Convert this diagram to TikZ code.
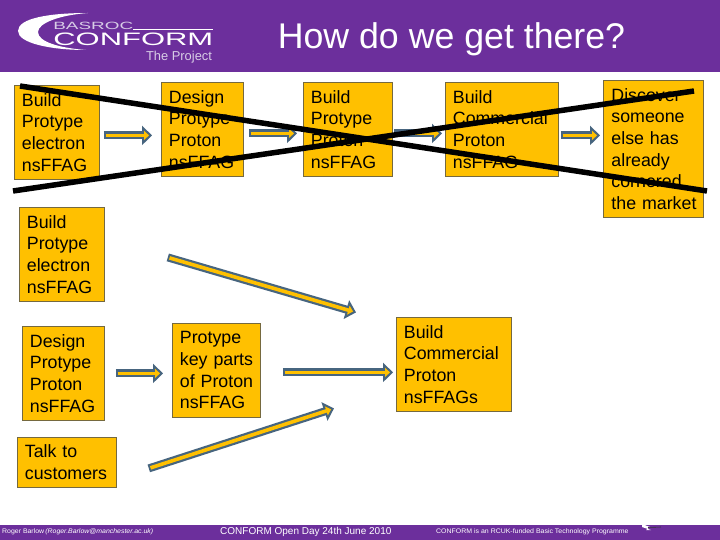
\documentclass[tikz,border=0pt]{standalone}
\usepackage{fontspec}
\setmainfont{Liberation Sans}
\usetikzlibrary{positioning, arrows.meta}

\definecolor{bandpurple}{HTML}{6C2F9C}
\definecolor{boxgold}{HTML}{FFC000}
\definecolor{boxedge}{HTML}{75693F}
\definecolor{arrowslate}{HTML}{47657F}
\definecolor{logogrey}{HTML}{D8CDE6}

\begin{document}
\begin{tikzpicture}[
    x=1pt, y=-1pt,
    band/.style={fill=bandpurple},
    stepbox/.style={draw=boxedge, fill=boxgold, line width=0.8pt, anchor=north west, align=left, inner xsep=7.5pt, inner ysep=0pt, font=\fontsize{17.8}{21.7}\selectfont},
    flowarrow/.style={draw=arrowslate, line width=8pt, -{Triangle[length=10pt,width=19pt]}, postaction={draw=boxgold, line width=3.6pt, -{Triangle[length=5pt,width=9pt]}, shorten <=1.8pt, shorten >=3pt}},
    crossline/.style={draw=black, line width=5.5pt},
    bandtext/.style={text=white, inner sep=0pt}
]

\useasboundingbox (0,0) rectangle (720,540);
\fill[white] (0,0) rectangle (720,540);

% Header and footer bands
\fill[band] (0,0) rectangle (720,72);
\fill[band] (0,525) rectangle (720,540);

% Logo in the header
\fill[white] (88,13) .. controls (50,13) and (18,18) .. (18,31) .. controls (18,43) and (50,50) .. (86,50) .. controls (60,48) and (38,42) .. (38,32) .. controls (38,23) and (60,15) .. (88,13) -- cycle;
\node[bandtext, text=logogrey, font=\fontsize{10.5}{11}\selectfont, xscale=1.8, anchor=west] (basroc) at (53,25.5) {BASROC};
\node[bandtext, font=\fontsize{18}{18}\selectfont, xscale=1.72, anchor=west] (conform) at (53,39.5) {CONFORM};
\draw[white, line width=0.7pt] (133,29) -- (213,29);

% Header texts
\node[bandtext, text=logogrey, font=\fontsize{12.9}{13}\selectfont] (project) at (179,57) {The Project};
\node[bandtext, font=\fontsize{35.7}{36}\selectfont] (title) at (451.5,39.5) {How do we get there?};

% First plan, top row
\node[stepbox, text width=70pt, minimum height=94pt] (elecold) at (14,85) {Build\\Protype\\electron\\nsFFAG};
\node[stepbox, text width=67pt, minimum height=94pt] (designold) at (161,82) {Design\\Protype\\Proton\\nsFFAG};
\node[stepbox, text width=73.5pt, minimum height=94pt] (protoold) at (303,82) {Build\\Protype\\Proton\\nsFFAG};
\node[stepbox, text width=98pt, minimum height=94pt] (commold) at (445,82) {Build\\Commercial\\Proton\\nsFFAG};
\node[stepbox, text width=84pt, inner xsep=8pt, minimum height=137pt] (market) at (603,80) {Discover\\someone\\else has\\already\\cornered\\\mbox{the market}};

\draw[flowarrow] ([xshift=4pt,yshift=-3pt]elecold.east) -- ([xshift=-9pt,yshift=-6pt]designold.west);
\draw[flowarrow] ([xshift=5pt,yshift=-4pt]designold.east) -- ([xshift=-6pt,yshift=-4pt]protoold.west);
\draw[flowarrow] ([xshift=2pt,yshift=-4pt]protoold.east) -- ([xshift=-3pt,yshift=-4pt]commold.west);
\draw[flowarrow] ([xshift=2pt,yshift=-6pt]commold.east) -- ([xshift=-3pt,yshift=13.5pt]market.west);

% Crossing out the first plan
\coordinate (crossa) at (20,86);
\coordinate (crossb) at (707,191);
\coordinate (crossc) at (13,191);
\coordinate (crossd) at (694,91);
\draw[crossline] (crossa) -- (crossb);
\draw[crossline] (crossc) -- (crossd);

% Second plan
\node[stepbox, text width=70pt, minimum height=94pt] (elec) at (19,207) {Build\\Protype\\electron\\nsFFAG};
\node[stepbox, text width=67pt, minimum height=94pt] (design) at (22,326) {Design\\Protype\\Proton\\nsFFAG};
\node[stepbox, text width=73pt, minimum height=94pt] (parts) at (172,323) {Protype\\\mbox{key parts}\\\mbox{of Proton}\\nsFFAG};
\node[stepbox, text width=100pt, minimum height=94pt] (comm) at (396,317) {Build\\Commercial\\Proton\\nsFFAGs};
\node[stepbox, text width=84pt, minimum height=50pt] (talk) at (17,437) {Talk to\\customers};

\draw[flowarrow] ([xshift=63pt,yshift=-3pt]elec.east) -- ([xshift=-40pt,yshift=52pt]comm.west);
\draw[flowarrow] ([xshift=11pt,yshift=0pt]design.east) -- ([xshift=-9pt,yshift=-3pt]parts.west);
\draw[flowarrow] ([xshift=22pt,yshift=-2pt]parts.east) -- ([xshift=-3pt,yshift=-8pt]comm.west);
\draw[flowarrow] ([xshift=32pt,yshift=-6pt]talk.east) -- ([xshift=-62pt,yshift=-44pt]comm.west);

% Footer texts
\node[bandtext, font=\fontsize{6.6}{7}\selectfont, xscale=1.05, anchor=west] (author) at (2,531.5) {Roger Barlow\,\textit{(Roger.Barlow@manchester.ac.uk)}};
\node[bandtext, font=\fontsize{10}{10}\selectfont, anchor=west] (event) at (220,532) {CONFORM Open Day 24th June 2010};
\node[bandtext, font=\fontsize{6.6}{7}\selectfont, xscale=1.055, anchor=west] (funder) at (436,532) {CONFORM is an RCUK-funded Basic Technology Programme};

% Small emblem in the footer
\fill[white] (642,524) -- (650,527) -- (646,530) -- (651,530) -- (642,527) -- cycle;
\draw[black!80, line width=0.6pt] (648,527.5) -- (661,527);

\end{tikzpicture}
\end{document}
